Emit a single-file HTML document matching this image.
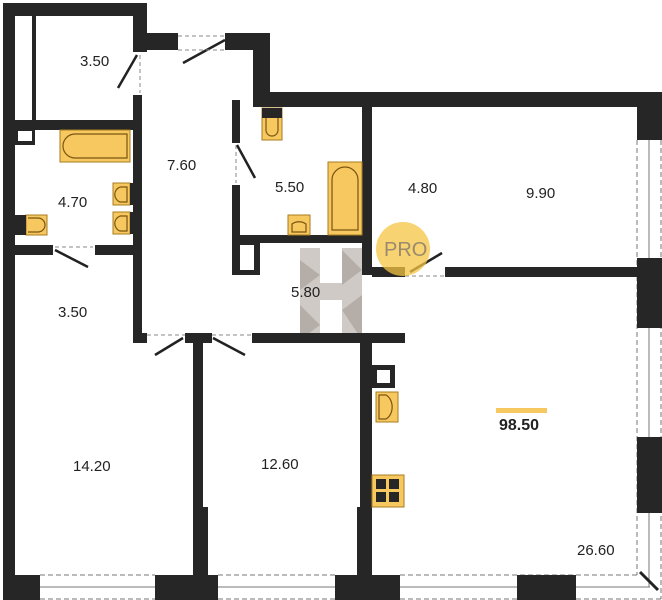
<!DOCTYPE html>
<html><head><style>
html,body{margin:0;padding:0;background:#fff;}
svg{display:block}
text{font-family:"Liberation Sans",sans-serif;font-size:15px;fill:#222}
</style></head><body>
<svg width="662" height="600" viewBox="0 0 662 600" xmlns="http://www.w3.org/2000/svg">
<g fill="#cfcac5">
<rect x="300" y="248" width="20" height="92"/>
<rect x="342" y="248" width="20" height="92"/>
<rect x="320" y="283" width="22" height="17"/>
</g>
<g fill="#a59d96" opacity="0.6">
<polygon points="300,260 320,275 300,290"/>
<polygon points="342,250 362,270 342,285"/>
<polygon points="300,305 320,325 300,340"/>
<polygon points="342,310 362,295 362,340"/>
</g>
<g stroke="#777" stroke-width="1" fill="none">
<g stroke-dasharray="5,3">
<line x1="40" y1="575" x2="155" y2="575"/><line x1="40" y1="599" x2="155" y2="599"/>
<line x1="218" y1="575" x2="335" y2="575"/><line x1="218" y1="599" x2="335" y2="599"/>
<line x1="400" y1="575" x2="638" y2="575"/><line x1="400" y1="599" x2="662" y2="599"/>
<line x1="637" y1="140" x2="637" y2="575"/><line x1="661" y1="140" x2="661" y2="599"/>
</g>
<line x1="40" y1="587" x2="155" y2="587"/>
<line x1="218" y1="587" x2="335" y2="587"/>
<line x1="400" y1="587" x2="517" y2="587"/>
<line x1="576" y1="587" x2="650" y2="587"/>
<line x1="649" y1="140" x2="649" y2="587"/>
</g>
<line x1="640" y1="572" x2="658" y2="590" stroke="#222" stroke-width="3"/>
<g fill="#262626">
<rect x="3" y="3" width="144" height="13"/>
<rect x="3" y="3" width="12" height="597"/>
<rect x="32" y="16" width="4" height="104"/>
<rect x="15" y="120" width="127" height="10"/>
<rect x="15" y="128" width="20" height="17"/>
<rect x="133" y="3" width="14" height="49"/>
<rect x="133" y="95" width="9" height="248"/>
<rect x="142" y="33" width="36" height="17"/>
<rect x="225" y="33" width="45" height="17"/>
<rect x="253" y="33" width="17" height="74"/>
<rect x="253" y="92" width="409" height="15"/>
<rect x="637" y="92" width="25" height="48"/>
<rect x="637" y="258" width="25" height="70"/>
<rect x="637" y="437" width="25" height="76"/>
<rect x="232" y="100" width="8" height="43"/>
<rect x="232" y="185" width="8" height="90"/>
<rect x="232" y="235" width="133" height="8"/>
<rect x="232" y="243" width="28" height="32"/>
<rect x="362" y="100" width="10" height="175"/>
<rect x="372" y="267" width="33" height="10"/>
<rect x="445" y="267" width="192" height="10"/>
<rect x="15" y="245" width="38" height="10"/>
<rect x="95" y="245" width="40" height="10"/>
<rect x="133" y="333" width="14" height="10"/>
<rect x="185" y="333" width="27" height="10"/>
<rect x="252" y="333" width="153" height="10"/>
<rect x="193" y="340" width="10" height="235"/>
<rect x="193" y="507" width="15" height="68"/>
<rect x="360" y="343" width="12" height="232"/>
<rect x="357" y="507" width="15" height="68"/>
<rect x="372" y="365" width="23" height="23"/>
<rect x="3" y="575" width="37" height="25"/>
<rect x="155" y="575" width="63" height="25"/>
<rect x="335" y="575" width="65" height="25"/>
<rect x="517" y="575" width="59" height="25"/>
</g>
<g fill="#fff">
<rect x="18" y="131" width="14" height="10"/>
<rect x="240" y="245" width="14" height="25"/>
<rect x="377" y="370" width="13" height="13"/>
<rect x="15" y="16" width="17" height="104"/>
</g>
<g stroke="#222" stroke-width="2.5" fill="none">
<line x1="137" y1="55" x2="118" y2="88"/>
<line x1="225" y1="40" x2="183" y2="63"/>
<line x1="237" y1="145" x2="255" y2="178"/>
<line x1="55" y1="250" x2="88" y2="267"/>
<line x1="183" y1="338" x2="155" y2="355"/>
<line x1="213" y1="338" x2="245" y2="355"/>
<line x1="410" y1="272" x2="442" y2="253"/>
</g>
<g stroke="#888" stroke-width="1" fill="none" stroke-dasharray="4,3">
<line x1="140" y1="55" x2="140" y2="93"/>
<line x1="178" y1="36" x2="225" y2="36"/><line x1="178" y1="50" x2="225" y2="50"/>
<line x1="236" y1="145" x2="236" y2="183"/>
<line x1="55" y1="247" x2="93" y2="247"/>
<line x1="147" y1="335" x2="185" y2="335"/><line x1="212" y1="335" x2="252" y2="335"/>
<line x1="405" y1="276" x2="445" y2="276"/>
</g>
<g fill="#f6c85f" stroke="#a87d22" stroke-width="1">
<rect x="60" y="130" width="70" height="32"/>
<rect x="113" y="183" width="17" height="22"/>
<rect x="113" y="212" width="17" height="22"/>
<rect x="26" y="215" width="21" height="20"/>
<rect x="262" y="108" width="20" height="32"/>
<rect x="328" y="162" width="34" height="73"/>
<rect x="288" y="215" width="22" height="20"/>
<rect x="376" y="392" width="22" height="30"/>
<rect x="372" y="475" width="32" height="32"/>
</g>
<g fill="none" stroke="#7a5512" stroke-width="1.2">
<path d="M75,134 H127 V158 H75 A12,12 0 0 1 75,134Z"/>
<path d="M332,230 V180 A13,13 0 0 1 358,180 V230Z"/>
<path d="M127,187 H120 A8,8 0 0 0 120,202 H127Z"/>
<path d="M127,216 H120 A8,8 0 0 0 120,231 H127Z"/>
<path d="M266,118 V130 A6,6 0 0 0 278,130 V118"/>
<path d="M28,218 H38 A7,7 0 0 1 38,232 H28"/>
<path d="M292,232 V224 A10,8 0 0 1 306,224 V232Z"/>
<path d="M379,395 H386 A10,13 0 0 1 386,419 H379Z"/>
</g>
<g fill="#262626">
<rect x="15" y="215" width="11" height="20"/>
<rect x="262" y="108" width="20" height="10"/>
<rect x="130" y="183" width="3" height="22"/><rect x="130" y="212" width="3" height="22"/>
<rect x="376" y="479" width="10" height="10"/><rect x="389" y="479" width="10" height="10"/>
<rect x="376" y="492" width="10" height="10"/><rect x="389" y="492" width="10" height="10"/>
</g>
<circle cx="403" cy="249" r="27" fill="#f5c443" opacity="0.75"/>
<text x="384" y="256" style="font-size:20px;fill:#9a8a6e">PRO</text>
<text x="80" y="66">3.50</text>
<text x="167" y="170">7.60</text>
<text x="275" y="192">5.50</text>
<text x="58" y="207">4.70</text>
<text x="58" y="317">3.50</text>
<text x="291" y="297">5.80</text>
<text x="408" y="193">4.80</text>
<text x="526" y="198">9.90</text>
<text x="73" y="471">14.20</text>
<text x="261" y="469">12.60</text>
<text x="577" y="555">26.60</text>
<rect x="496" y="408" width="51" height="5" fill="#f6c85f"/>
<text x="499" y="430" style="font-weight:bold;font-size:16px">98.50</text>
</svg>
</body></html>
